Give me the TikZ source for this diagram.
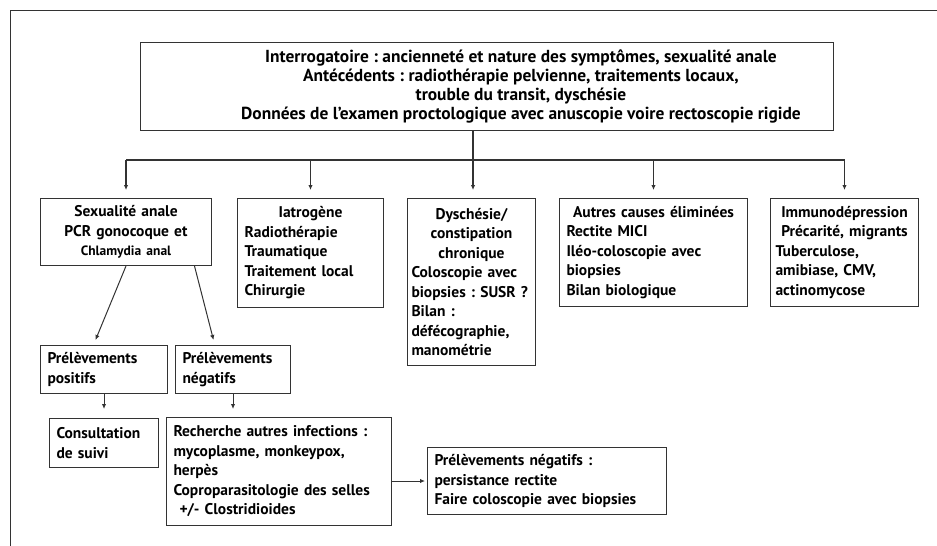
\documentclass[tikz,border=0pt]{standalone}
\usepackage{fontspec}
\setmainfont{PT Sans}
\usetikzlibrary{arrows.meta,positioning}
\newcommand\ctr[1]{\hfill#1\hfill\null}
\frenchspacing

\begin{document}
\begin{tikzpicture}[x=1pt,y=-1pt,
  boite/.style={draw=black!80,line width=1pt,anchor=north west,align=left,
    inner xsep=7pt,inner ysep=2pt,font=\fontsize{15.5}{19.5}\selectfont\bfseries},
  fleche/.style={draw=black!80,line width=1pt,-{Latex[length=5pt,width=4.5pt]}},
  trait/.style={draw=black!80,line width=1.4pt}]
\useasboundingbox (0,0) rectangle (937,546);
\draw[black!80,line width=0.8pt] (10,546) -- (10,10) -- (937,10);
% boite du haut
\node[boite,minimum width=693pt,minimum height=88pt] (interro) at (140,42) {};
\node[align=center,font=\fontsize{17.4}{19.3}\selectfont\bfseries] (interrotxt)
  at ([xshift=34pt]interro.center)
  {Interrogatoire : ancienneté et nature des symptômes, sexualité anale\\
   Antécédents : radiothérapie pelvienne, traitements locaux,\\
   trouble du transit, dyschésie\\
   Données de l'examen proctologique avec anuscopie voire rectoscopie rigide};
% premiere rangee
\node[boite,text width=157pt,minimum height=67pt] (sexe) at (40,198)
  {\ctr{Sexualité anale}\\ \ctr{PCR gonocoque et}\\
   \ctr{\fontsize{13.5}{19.5}\selectfont Chlamydia anal}};
\node[boite,text width=132pt,minimum height=109pt] (iatro) at (237,198)
  {\ctr{Iatrogène}\\ Radiothérapie\\ Traumatique\\ Traitement local\\ Chirurgie};
\node[boite,inner xsep=4pt,text width=120pt,minimum height=167pt] (dysch) at (407,198)
  {\ctr{Dyschésie/}\\ \ctr{constipation}\\ \ctr{chronique}\\ Coloscopie~avec\\
   biopsies~:~SUSR~?\\ Bilan :\\ défécographie,\\ manométrie};
\node[boite,text width=174pt,minimum height=108pt] (autres) at (559,198)
  {\ctr{Autres~causes~éliminées}\\ Rectite MICI\\ Iléo-coloscopie avec\\ biopsies\\
   Bilan biologique};
\node[boite,inner xsep=5pt,text width=138pt,minimum height=108pt] (immuno) at (770,198)
  {\ctr{Immunodépression}\\ \ctr{Précarité,~migrants}\\ Tuberculose,\\
   amibiase, CMV,\\ actinomycose};
% deuxieme rangee
\node[boite,text width=113pt,minimum height=48pt] (prelpos) at (40,345)
  {Prélèvements\\ positifs};
\node[boite,text width=101pt,minimum height=48pt] (prelneg) at (175,345)
  {Prélèvements\\ négatifs};
\node[boite,text width=95pt,minimum height=49pt] (suivi) at (49,418)
  {Consultation\\ de suivi};
\node[boite,text width=211pt,minimum height=108pt] (autresinf) at (166,417)
  {Recherche~autres~infections~:\\ mycoplasme, monkeypox,\\ herpès\\
   Coproparasitologie~des~selles\\ \hspace*{6pt}+/- Clostridioides};
\node[boite,text width=225pt,minimum height=67pt] (coloscopie) at (427,447)
  {Prélèvements négatifs :\\ persistance rectite\\ Faire coloscopie avec biopsies};
% connecteurs
\coordinate (barre) at (473,160);
\draw[trait] (interro.south -| barre) -- (barre);
\draw[trait] (barre -| sexe.north) -- (barre -| immuno.north);
\draw[fleche,line width=1.3pt,shorten >=8pt] (barre -| sexe.north) -- (sexe.north);
\draw[fleche,shorten >=8pt] (barre -| iatro.north) -- (iatro.north);
\draw[fleche,line width=1.3pt,shorten >=8pt] (barre) -- (barre |- dysch.north);
\draw[fleche,shorten >=8pt] (barre -| autres.north) -- (autres.north);
\draw[fleche,line width=1.3pt,shorten >=8pt] (barre -| immuno.north) -- (immuno.north);
\draw[fleche] (sexe.south) -- ([xshift=-8.5pt,yshift=5pt]prelpos.north);
\draw[fleche] ([xshift=68.5pt]sexe.south) -- ([xshift=-19.5pt,yshift=5pt]prelneg.north);
\draw[fleche,shorten >=9pt] (prelpos.south) -- (prelpos.south |- suivi.north);
\draw[fleche,shorten >=8pt] (prelneg.south) -- (prelneg.south |- autresinf.north);
\draw[fleche,shorten >=2pt] (autresinf.east |- coloscopie.west) -- (coloscopie.west);
\end{tikzpicture}
\end{document}
